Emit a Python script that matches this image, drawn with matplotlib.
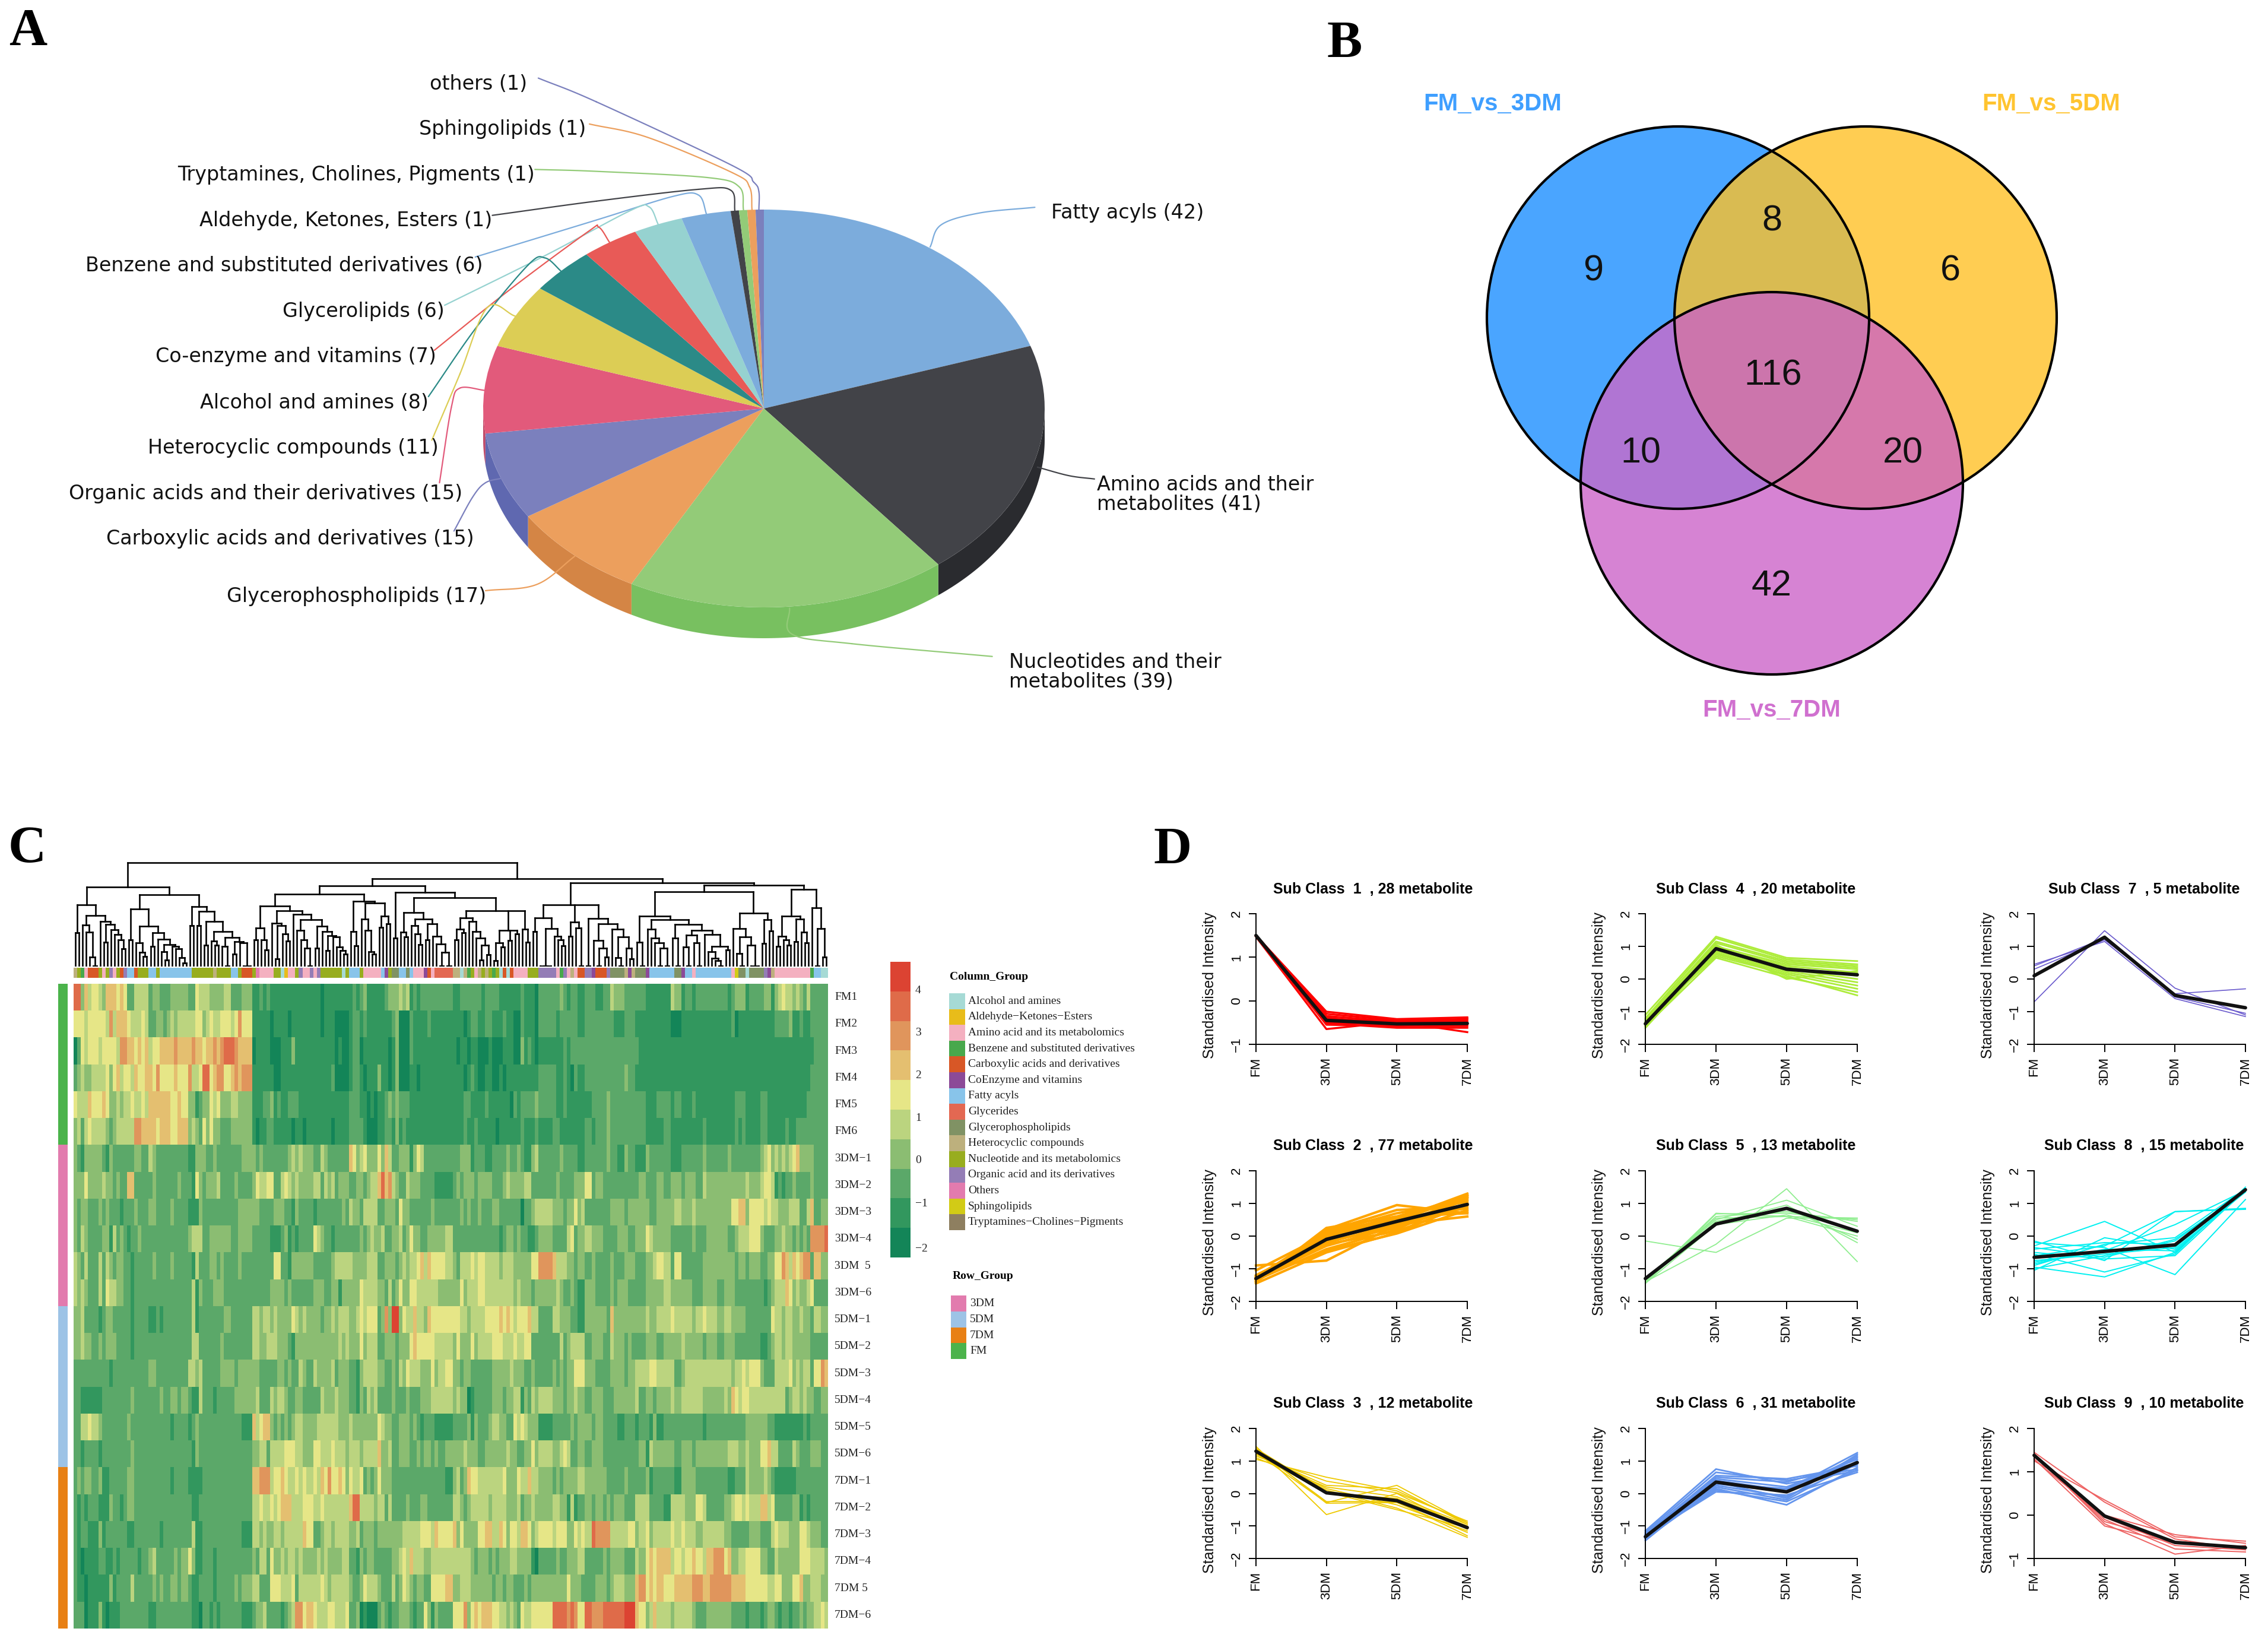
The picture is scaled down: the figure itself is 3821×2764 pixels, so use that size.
import numpy as np
import matplotlib
matplotlib.use("Agg")
import matplotlib.pyplot as plt
from matplotlib.colors import ListedColormap
from matplotlib.patches import Circle, Polygon
from matplotlib.collections import LineCollection

W, H = 3821, 2764
DPI = 100

# ---------------- panel A data ----------------
pie_names = ["Fatty acyls (42)", "Amino acids and their\nmetabolites (41)", "Nucleotides and their\nmetabolites (39)",
             "Glycerophospholipids (17)", "Carboxylic acids and derivatives (15)",
             "Organic acids and their derivatives (15)", "Heterocyclic compounds (11)", "Alcohol and amines (8)",
             "Co-enzyme and vitamins (7)", "Glycerolipids (6)", "Benzene and substituted derivatives (6)",
             "Aldehyde, Ketones, Esters (1)", "Tryptamines, Cholines, Pigments (1)", "Sphingolipids (1)", "others (1)"]
pie_counts = [42, 41, 39, 17, 15, 15, 11, 8, 7, 6, 6, 1, 1, 1, 1]
pie_colors = ["#7cacdc", "#424348", "#93cb78", "#ec9f5d", "#7b80bd", "#e25a7b", "#dccd55", "#2b8a87",
              "#e85a57", "#96d2d0", "#7cacdc", "#424348", "#93cb78", "#ec9f5d", "#7b80bd"]
pie_side_colors = ["#5f8fc0", "#2a2b2f", "#78c060", "#d48545", "#5f68b0", "#c04a68", "#bfae40", "#1f706d",
                   "#c94a48", "#7ab8b5", "#5f8fc0", "#2a2b2f", "#78c060", "#d48545", "#5f68b0"]

# ---------------- panel B data ----------------
venn_sets = ["FM_vs_3DM", "FM_vs_5DM", "FM_vs_7DM"]
venn_counts = [9, 8, 6, 116, 10, 20, 42]

# ---------------- panel C data ----------------
row_names = ["FM1", "FM2", "FM3", "FM4", "FM5", "FM6", "3DM\u22121", "3DM\u22122", "3DM\u22123", "3DM\u22124", "3DM  5", "3DM\u22126",
             "5DM\u22121", "5DM\u22122", "5DM\u22123", "5DM\u22124", "5DM\u22125", "5DM\u22126",
             "7DM\u22121", "7DM\u22122", "7DM\u22123", "7DM\u22124", "7DM 5", "7DM\u22126"]
row_groups = [3] * 6 + [0] * 6 + [1] * 6 + [2] * 6
row_group_names = ["3DM", "5DM", "7DM", "FM"]
row_group_colors = ["#e27bae", "#9dc3e6", "#e88014", "#4bb34b"]
col_group_names = ["Alcohol and amines", "Aldehyde\u2212Ketones\u2212Esters", "Amino acid and its metabolomics",
                   "Benzene and substituted derivatives", "Carboxylic acids and derivatives", "CoEnzyme and vitamins",
                   "Fatty acyls", "Glycerides", "Glycerophospholipids", "Heterocyclic compounds",
                   "Nucleotide and its metabolomics", "Organic acid and its derivatives", "Others", "Sphingolipids",
                   "Tryptamines\u2212Cholines\u2212Pigments"]
col_group_codes = "AKMBCZFGPHNOXST"
col_group_colors = ["#a6dad5", "#e8bc1a", "#f4b0c0", "#48a84c", "#d85726", "#8c4a98", "#88c4ea", "#e36852", "#809264",
                    "#bdb07d", "#98ad1f", "#947db6", "#e27bae", "#d2cb16", "#8e7f60"]
col_annotation = ("H1 N1 B1 M1 C3 N1 M1 N1 O1 M1 N1 C1 O1 F2 C1 N3 F2 N1 F9 N6 H1 N4 F2 N1 C3 N1 X1 M4 N2 A1 K1 M2 N1 O1 "
                  "M2 O1 M1 O1 N6 A1 N1 F3 N1 M5 F1 Z1 N1 P2 F2 P1 F1 M3 Z1 C1 M1 G5 "
                  "H2 A1 H1 B1 N1 M1 H1 N1 H1 N1 B1 N1 A1 C1 A1 C1 M4 N3 O5 M1 B1 O1 M1 H1 M1 C2 O2 Z1 C3 O1 P4 H1 Z1 "
                  "H1 P3 Z1 F7 P2 Z1 F2 M1 F10 M1 S1 P2 A1 P4 O1 Z1 H1 M10 B1 F2 A2")
heat_colors = ["#138558", "#32975e", "#5ba869", "#8bbd72", "#bbd47f", "#e6e687", "#e4bf70", "#e0955c", "#df6b49", "#dc4332"]
cbar_ticks = ["4", "3", "2", "1", "0", "\u22121", "\u22122"]

# heat values as run-lengths: first digit = colour level, remaining digits = number of columns
heat_a = [
 "82 31 61 41 52 41 31 63 51 61 51 22 44 21 32 23 35 22 51 43 34 42 23 33 12 21 11 21 112 11 11 01 11",
 "53 41 55 41 71 41 63 51 43 51 41 22 31 31 21 31 41 31 45 52 31 41 51 42 53 41 51 71 53 15 01 14 01 18 01 11",
 "01 21 51 41 53 41 54 41 72 62 51 61 51 61 41 52 64 71 64 71 62 51 62 71 61 71 83 71 64 01 14 03 13 31 19",
 "21 31 41 32 44 51 31 51 61 41 52 41 61 52 62 51 71 54 61 53 71 42 51 82 51 61 72 52 61 71 61 73 16 02 113",
 "51 43 61 53 61 51 32 41 31 42 51 42 51 41 66 52 61 52 32 11 21 32 51 41 51 33 42 34 13 22 31 11 21 12 23 18",
 "31 41 21 41 51 44 31 21 31 45 72 64 51 63 52 63 31 41 31 21 51 31 51 32 23 36 11 01 12 22 15 01 12 01 16",
 "31 21 11 35 21 11 31 21 25 32 22 41 31 29 12 33 22 31 27 34 21 31 27 31 41 31 41 31 32 22 41 31",
 "33 51 34 41 32 21 31 22 62 25 31 26 31 23 11 51 31 21 33 41 24 31 24 31 51 42 52 22 41 51 41 31 41 34 42 21 41",
 "31 21 32 23 31 21 31 23 11 23 31 23 32 24 31 24 13 31 210 36 24 33 22 11 31 24 11 23",
 "31 21 41 31 24 32 11 41 21 31 21 11 22 31 213 31 43 22 36 22 34 25 13 21 31 11 21 11 24 51 41 31 21",
 "41 31 21 41 23 41 21 41 31 21 32 22 11 25 31 24 31 25 11 41 23 32 21 31 24 31 29 52 22 11 36 24",
 "41 31 41 31 23 41 21 51 42 32 22 11 216 41 11 31 23 33 213 34 21 31 26 33 21",
 "32 41 24 11 21 32 25 11 24 12 21 11 28 41 11 27 32 26 42 31 42 31 41 34 51 41 31 41 34 21 31",
 "32 41 32 22 31 21 33 24 11 216 42 26 31 28 42 32 43 33 21 11 39",
 "210 11 210 32 29 42 31 41 25 34 21 36 25 32 21 31 22 41 31 22 41 33",
 "22 16 28 31 27 31 22 32 21 32 21 12 41 23 11 25 36 41 23 41 31 42 31 22 32 25 41 31",
 "22 42 51 42 31 27 31 211 11 24 11 21 31 212 13 61 41 51 62 31 21 31 21 31 21 31 42 34 43",
 "22 11 24 11 28 31 216 11 31 215 32 42 21 44 53 42 33 52 42",
 "21 31 21 32 22 31 12 25 32 210 11 24 14 214 62 73 41 52 61 51 42 51 41 51 42 51 41 61 51",
 "21 11 21 11 23 13 31 22 11 21 32 216 12 215 42 51 42 51 41 51 63 43 53 42 51 41",
 "21 11 22 13 31 11 26 12 27 11 28 41 12 211 13 42 31 41 32 42 31 45 61 52 22 31 41",
 "21 11 01 14 22 12 21 11 25 11 22 31 41 25 31 21 32 51 31 12 23 11 210 31 21 42 21 51 32 41 31 42 31 41 34 41 31 41",
 "21 12 01 16 31 11 24 41 25 31 21 31 22 32 21 32 21 12 24 11 25 31 21 33 42 23 53 43 51 21 46 51 41",
 "23 01 13 31 11 01 13 28 12 210 12 01 22 11 21 11 26 13 21 32 41 21 23 11 21 31 41 72 51 62 51 43",
]
heat_b = [
 "17 21 11 21 31 15 21 33 41 31 41 11 21 11 29 12 26 11 24 16 21 13 01 26 31 21 11 22 11",
 "12 04 11 22 11 21 17 21 31 03 21 14 21 19 01 11 22 12 22 13 21 12 02 21 13 01 25 11 25 11",
 "12 01 11 02 11 22 01 17 01 11 31 03 21 112 01 12 01 12 03 11 03 13 02 31 11 21 11 01 17 21 11 23",
 "11 21 04 11 22 11 01 13 31 12 01 11 31 03 12 01 112 01 11 21 11 02 12 02 11 01 19 25 12 21 11 01 21 11",
 "16 23 12 01 11 01 12 21 31 21 31 23 115 22 14 21 16 01 21 11 24 31 25 12 21 14",
 "11 01 14 24 11 03 12 22 11 31 11 21 116 21 12 21 15 01 16 21 13 21 14 22 16",
 "26 61 51 31 41 51 33 51 31 61 41 22 33 11 31 51 41 210 33 11 23 12 24 31 22 31 21 12 31 41 26 31 24 11",
 "31 41 21 33 22 32 21 31 42 61 81 61 71 41 31 22 41 33 24 15 21 31 21 33 21 34 21 22 31 41 34 42 22 25 31 24 32",
 "24 31 21 41 32 21 44 22 33 21 51 32 26 31 27 31 21 31 22 31 23 32 26 01 22 31 45 33 21 32 51 31",
 "21 11 27 31 21 31 41 32 41 22 32 41 21 31 51 32 22 35 42 213 11 21 32 21 31 22 12 21 34 24 41 51 21 31",
 "21 31 45 34 43 22 33 21 31 41 31 42 51 61 41 61 54 42 31 21 43 51 41 52 44 31 43 35 52 74 61 43 32 21 31",
 "21 32 11 35 51 44 32 21 41 21 31 51 32 52 46 36 51 31 43 52 48 31 41 33 21 36 41 31 22 31 21 11",
 "31 41 31 43 32 41 51 41 53 21 31 71 31 92 31 51 42 61 42 31 61 58 42 31 44 54 61 51 61 51 41 53 61 42 24 42 31 32 22 11",
 "33 41 31 41 33 51 31 43 22 33 21 33 51 61 55 45 31 51 33 51 31 44 53 43 51 42 52 28 41 21 31 43",
 "31 41 21 33 22 11 31 44 32 22 31 21 41 31 51 43 33 51 31 42 52 32 21 32 26 34 31 41 31 32 22 31 25 31 21 31 21 32 52",
 "32 41 33 22 11 31 21 41 31 41 24 31 23 31 23 33 46 31 41 32 01 11 25 33 21 32 42 11 31 21 41 31 44 33 21 32 41 31",
 "43 33 41 37 51 41 32 22 33 21 31 21 11 23 15 24 31 11 31 23 31 42 32 22 51 41 51 41 31 32 14 25 31 21 31",
 "41 51 43 31 43 31 44 61 32 41 22 33 22 31 21 32 21 31 22 34 31 41 33 22 36 41 32 22 32 51 31 44 32 41 51 41 22 31",
 "71 52 61 51 31 51 42 51 21 31 21 31 51 31 32 215 12 31 41 21 31 61 52 47 51 33 51 42 61 42 34 21 31 21 32 32 41",
 "46 61 82 44 31 42 21 41 21 23 31 23 32 27 42 31 21 31 41 44 31 44 33 41 21 32 41 35 42 32 11 41 11 21",
 "41 31 44 32 41 21 31 32 21 36 31 45 53 41 61 54 61 31 51 31 32 31 52 62 42 61 51 31 52 41 62 51 31 41 54 41 53 32 51 41",
 "34 42 22 11 31 21 32 25 32 41 51 41 61 43 32 411 31 21 33 21 31 21 33 42 34 11 01 25 31 22 33 41",
 "31 45 31 22 31 51 43 31 23 41 21 31 51 41 31 21 32 22 54 62 32 43 31 35 21 32 21 32 23 31 21 310 51 33",
 "52 43 51 22 31 01 11 03 21 31 21 11 22 31 32 21 11 22 51 31 11 31 24 53 71 31 51 61 51 63 52 42 31 41 31 21 51 42 56 84 71 81 71 51",
]
heat_c = [
 "11 23 12 22 41 33 26 17 41 32 11 22 11 29 11 21 33 11 24 32 11 31 41 51 42 31 41 31 21 41 25",
 "11 28 13 23 110 03 114 21 01 110 24 31 12 21 12 25",
 "216 149 24",
 "11 211 31 22 149 25",
 "13 24 31 210 13 24 11 22 13 21 111 23 14 22 111 26",
 "11 22 11 23 31 210 15 22 19 21 18 21 11 21 14 22 15 21 12 29",
 "11 26 31 22 12 31 22 13 31 26 13 26 31 26 31 28 31 41 51 31 41 31 41 31 41 51 61 34 24",
 "31 52 21 32 210 32 23 32 22 33 21 33 22 41 311 41 33 41 52 41 11 21 11 22 31 24 31 24",
 "41 27 34 21 36 22 35 42 33 41 310 52 62 31 54 41 51 42 33 43 22 41 61 22 32",
 "31 42 33 24 33 22 33 51 41 35 26 31 23 36 22 31 43 53 31 23 32 41 32 21 31 21 31 21 74 81",
 "31 22 31 24 31 23 33 23 32 41 52 42 21 52 26 39 21 32 21 33 22 32 52 71 61 41 61 51 61 72 21 62 32",
 "11 33 24 31 21 33 25 35 42 36 23 34 22 33 28 11 21 31 43 61 51 31 41 32 41 51 24",
 "11 36 21 61 39 41 32 44 51 45 31 42 51 43 32 42 34 27 51 42 31 42 32 41 32 21 42 32",
 "41 22 33 22 41 33 21 31 24 33 22 35 41 35 21 33 22 33 27 12 21 31 42 31 42 35 25",
 "51 33 24 34 21 32 44 52 45 22 31 413 31 42 51 41 53 31 23 44 51 31 41 31 42 21 52 71 61",
 "31 22 33 23 36 41 22 32 21 34 41 32 46 36 41 31 61 51 41 52 410 21 31 42 31 41 32 22 32",
 "33 21 32 24 12 23 11 23 11 31 12 211 11 211 36 22 18 21 11 25",
 "31 22 33 210 32 11 41 36 22 33 21 39 43 32 41 33 52 61 41 41 24 41 31 23 33 22",
 "41 36 25 31 25 31 11 26 12 34 29 12 23 41 34 41 31 21 16 29",
 "21 32 21 32 21 31 21 33 23 44 24 12 44 33 52 41 25 32 41 52 41 51 43 62 41 51 25 32 11 21 11 25",
 "51 42 81 74 45 52 31 42 51 31 45 51 42 51 43 32 46 32 25 33 23 41 51 43 33 52 41 33 22",
 "41 25 31 21 34 23 41 32 51 61 51 64 41 52 41 52 61 52 41 62 73 51 61 32 42 54 32 22 41 36 53 43 41 31",
 "21 23 33 21 31 43 33 61 72 51 61 51 62 53 65 73 62 76 64 56 42 52 33 52 61 32 41 42 32",
 "51 82 73 86 93 61 52 31 41 61 44 31 45 31 23 37 24 11 23 11 21 32 21 11 22 11 22 31 21 32 42 51 41",
]

# dendrogram: (merge_level child child ...), "." is a leaf; level 0 = top of the tree area
dend_a1 = "(222 (363 . .) (276 (325 . (360 . (487 . (530 . .)))) (306 . (320 (412 . .) (347 . (372 . (398 . (443 . .))))))))"
dend_a2 = "(244 (400 . .) (330 (413 . (462 . (482 . .))) (363 (432 . .) (397 . (423 (460 . (502 . .)) (433 . (445 . (488 . (516 . .)))))))))"
dend_a3 = "(232 (326 . .) (255 (326 . .) (307 (427 . .) (357 (405 . (426 . .)) (388 (432 . (530 . .)) (408 (470 . .) (415 . (530 . . .))))))))"
dend_b1 = ("(228 (340 (398 . .) (398 . (450 . .))) (252 (315 . (327 (495 . .) (370 . (406 . .)))) (270 . (298 (352 . (398 . (442 . (530 . .)))) "
           "(330 (440 . .) (357 . (378 (452 . .) (385 . (435 . (452 . (470 . .)))))))))))")
dend_b2 = "(205 (358 . (428 . .)) (213 (293 . (350 . (460 . (470 . .)))) (280 (336 . .) (318 . .))))"
dend_z1 = "(260 (360 . (385 . .)) (293 (327 . (370 . (422 . .))) (317 (400 . .) (382 . (420 . (463 (530 . .) (530 . .)))))))"
dend_z2 = ("(252 (288 (345 (398 . .) (362 . .)) (305 . (358 . (390 . (427 (502 . .) (473 . .)))))) "
           "(352 (415 (503 . .) (435 . .)) (403 . .) (370 . .)) (345 . (410 . .)))")
dend_c1 = ("(222 (288 (358 . .) (342 (530 . . . .) (380 . (398 . (430 . .))))) (310 (382 . .) (340 . (530 . .))) "
           "(292 (530 . .) (317 (402 . (440 (530 . .) (486 . .))) (345 . (383 (490 . (530 . .)) (440 . (495 . .)))))))")
dend_c2 = ("(122 (157 (278 (410 . (530 . .)) (298 (345 . (390 . (413 . (442 (530 . .) (530 . .))))) (320 (390 . (530 . .)) "
           "(352 (375 (435 . (530 . .)) (415 . (530 . .))) (372 . (432 (458 . (492 . (505 . (530 . .)))) (450 . .))))))) "
           "(263 (343 . (383 (468 . (530 . .)) (427 . (530 . . .)))) (298 (418 . .) (355 . .)))) "
           "(143 (280 (380 (432 . .) (398 . (425 . .))) (295 (408 . .) (360 . (413 . .)))) (237 . (342 (530 . .) (485 . .)))))")
dend_tree = (f"(10 (133 {dend_a1} (170 {dend_a2} {dend_a3})) (90 (126 (168 {dend_b1} {dend_b2}) "
             f"(158 (390 . .) (187 {dend_z1} {dend_z2}))) (112 {dend_c1} {dend_c2})))")

# ---------------- panel D data ----------------
stages = ["FM", "3DM", "5DM", "7DM"]
class_titles = ["Sub Class  1  , 28 metabolite", "Sub Class  2  , 77 metabolite", "Sub Class  3  , 12 metabolite",
                "Sub Class  4  , 20 metabolite", "Sub Class  5  , 13 metabolite", "Sub Class  6  , 31 metabolite",
                "Sub Class  7  , 5 metabolite", "Sub Class  8  , 15 metabolite", "Sub Class  9  , 10 metabolite"]
class_colors = ["#ff0000", "#ffa500", "#eec900", "#adec3a", "#90ee90", "#6495ed", "#6a5acd", "#00f0f0", "#ee6363"]
class_line_widths = [2.4, 3.0, 1.3, 2.0, 1.3, 2.0, 1.2, 1.4, 1.4]
class_ymin = [-1, -2, -2, -2, -2, -2, -2, -2, -1]
class_means = [[1.5, -0.45, -0.53, -0.52], [-1.3, -0.1, 0.45, 0.97], [1.3, 0.02, -0.22, -1.05],
               [-1.37, 0.93, 0.3, 0.13], [-1.3, 0.37, 0.85, 0.15], [-1.33, 0.35, 0.05, 0.95],
               [0.1, 1.28, -0.5, -0.88], [-0.65, -0.47, -0.27, 1.42], [1.38, -0.02, -0.63, -0.75]]
class1 = [[1.5,-0.25,-0.42,-0.38],[1.5,-0.3,-0.45,-0.42],[1.49,-0.35,-0.48,-0.45],[1.5,-0.4,-0.5,-0.48],[1.5,-0.45,-0.52,-0.5],
          [1.48,-0.5,-0.55,-0.55],[1.5,-0.55,-0.58,-0.58],[1.47,-0.65,-0.48,-0.72],[1.5,-0.52,-0.62,-0.62],[1.49,-0.38,-0.6,-0.4]]
class2 = [[-0.9,-0.75,0.35,0.6],[-1.45,-0.5,0.1,1.0],[-1.4,0.25,0.6,0.7],[-1.35,0.2,0.95,0.7],[-1.3,0.15,0.8,0.9],[-1.25,0.1,0.7,1.05],
          [-1.35,0.05,0.6,1.2],[-1.4,0,0.5,1.3],[-1.3,-0.05,0.45,1.25],[-1.2,-0.1,0.4,1.1],[-1.25,-0.2,0.35,1.15],[-1.3,-0.3,0.3,1.2],
          [-1.35,-0.4,0.2,1.25],[-1.28,-0.15,0.25,1.0],[-1.22,-0.25,0.15,0.95],[-1.33,0.1,0.55,0.85],[-1.3,-0.45,0.08,0.8],[-1.05,0.05,0.5,0.75]]
class3 = [[1.05,0.5,0.08,-0.9],[1.15,0.38,0.02,-0.85],[1.2,0.25,0.15,-0.95],[1.45,-0.65,0.0,-1.1],[1.4,-0.3,-0.28,-1.2],[1.35,-0.25,-0.25,-1.3],
          [1.3,0.1,-0.45,-1.35],[1.1,0.2,-0.1,-0.95],[1.25,-0.28,0.25,-0.9],[1.38,0.05,-0.5,-1.05],[1.28,0.15,-0.35,-1.15],[1.22,0.0,-0.15,-1.0]]
class4 = [[-1.1,1.3,0.65,0.55],[-1.2,1.25,0.6,0.45],[-1.25,1.15,0.55,0.4],[-1.3,1.1,0.5,0.35],[-1.35,1.0,0.45,0.3],[-1.4,0.95,0.4,0.2],
          [-1.45,0.9,0.35,0.1],[-1.5,0.85,0.3,0],[-1.4,0.8,0.25,-0.1],[-1.35,0.75,0.2,-0.2],[-1.3,0.7,0.15,-0.3],[-1.45,0.65,0.05,-0.4],
          [-1.38,0.8,0.1,-0.5],[-1.42,1.05,0.0,0.25]]
class5 = [[-0.15,-0.5,0.55,0.55],[-1.4,-0.25,1.45,-0.78],[-1.4,0.7,0.6,0.55],[-1.45,0.68,0.7,0.5],[-1.35,0.6,0.75,0.45],[-1.3,0.5,1.1,0.3],
          [-1.4,0.45,0.85,-0.1],[-1.35,0.4,0.95,-0.2],[-1.45,0.35,0.65,0.1],[-1.3,0.55,0.6,0.0]]
class6 = [[-1.15,0.75,0.3,0.7],[-1.2,0.65,0.4,0.75],[-1.25,0.55,0.45,0.85],[-1.3,0.5,0.35,0.95],[-1.35,0.45,0.2,1.05],[-1.4,0.4,0.1,1.25],
          [-1.45,0.3,0.05,1.15],[-1.3,0.25,-0.1,0.9],[-1.35,0.2,-0.2,1.0],[-1.4,0.15,-0.35,0.8],[-1.3,0.05,-0.05,0.65],[-1.25,0.3,0.15,1.1],
          [-1.38,0.35,-0.15,1.2],[-1.28,0.1,-0.25,0.72]]
class7 = [[0.45,1.15,-0.6,-1.15],[-0.7,1.48,-0.28,-1.1],[0.3,1.2,-0.45,-0.3],[0.4,1.25,-0.55,-1.05],[0.1,1.3,-0.5,-0.9]]
class8 = [[-0.3,0.45,-0.5,1.4],[-0.95,-1.25,-0.5,1.45],[-0.55,-1.1,-0.55,1.5],[-1.05,-0.05,-0.4,1.35],[-0.15,-0.75,0.75,0.85],[-0.6,-0.3,0.75,0.82],
          [-0.2,-0.35,-1.18,1.12],[-0.8,-0.45,0.35,1.4],[-0.35,-0.65,-0.1,1.35],[-0.9,-0.25,-0.05,1.45],[-0.5,-0.7,-0.6,1.4],[-0.75,-0.55,-0.35,1.42],
          [-0.85,-0.4,-0.45,1.38],[-0.4,-0.2,-0.25,1.45],[-1.0,-0.6,-0.15,1.4]]
class9 = [[1.25,0.35,-0.5,-0.6],[1.45,0.3,-0.55,-0.8],[1.3,-0.25,-0.65,-0.72],[1.42,-0.2,-0.9,-0.7],[1.35,-0.1,-0.78,-0.85],[1.4,0.0,-0.45,-0.65],
          [1.38,-0.15,-0.6,-0.75],[1.28,-0.05,-0.7,-0.8]]
class_lines = [class1, class2, class3, class4, class5, class6, class7, class8, class9]

# ---------------- figure helpers ----------------
SERIF = "Liberation Serif"
SANS = "Liberation Sans"
fig = plt.figure(figsize=(W / DPI, H / DPI), dpi=DPI, facecolor="white")


def px_axes(x0, y0, x1, y1, **kw):
    return fig.add_axes([x0 / W, 1 - y1 / H, (x1 - x0) / W, (y1 - y0) / H], **kw)


page = px_axes(0, 0, W, H)
page.set_xlim(0, W)
page.set_ylim(H, 0)
page.axis("off")
page.set_zorder(5)
page.patch.set_alpha(0)

for letter, lx, ly in [("A", 47, 53), ("B", 2265, 74), ("C", 46, 1430), ("D", 1976, 1432)]:
    page.text(lx, ly, letter, family=SERIF, weight="bold", fontsize=64, ha="center", va="center")

# ---------------- A: pie ----------------
PIE_CX, PIE_CY, PIE_RX, PIE_RY, PIE_D = 1287, 688, 473, 335, 52
ax_pie = px_axes(PIE_CX - PIE_RX, PIE_CY - PIE_RY, PIE_CX + PIE_RX, PIE_CY + PIE_RY + PIE_D)
depth = PIE_D / PIE_RY
edges = 90 - 360 * np.concatenate([[0], np.cumsum(pie_counts)]) / np.sum(pie_counts)
for i in range(len(pie_counts)):
    a0, a1 = max(edges[i + 1], -180), min(edges[i], 0)
    if a1 > a0:
        t = np.radians(np.linspace(a1, a0, 80))
        xs, ys = np.cos(t), np.sin(t)
        ax_pie.add_patch(Polygon(np.r_[np.c_[xs, ys], np.c_[xs[::-1], ys[::-1] - depth]], closed=True,
                                 fc=pie_side_colors[i], ec="none", zorder=1))
wedges, _ = ax_pie.pie(pie_counts, colors=pie_colors, startangle=90, counterclock=False, radius=1,
                       wedgeprops=dict(linewidth=0, zorder=2))
ax_pie.set_aspect("auto")
ax_pie.set_xlim(-1, 1)
ax_pie.set_ylim(-1 - depth, 1)
ax_pie.axis("off")

label_layout = {
    0: (1771, 358, "left"), 1: (1848, 833, "left"), 2: (1700, 1132, "left"), 3: (819, 1004, "right"),
    4: (799, 907, "right"), 5: (779, 831, "right"), 6: (739, 754, "right"), 7: (722, 678, "right"),
    8: (735, 600, "right"), 9: (749, 524, "right"), 10: (814, 447, "right"), 11: (829, 371, "right"),
    12: (901, 294, "right"), 13: (987, 217, "right"), 14: (888, 141, "right"),
}
for i, name in enumerate(pie_names):
    lx, ly, ha = label_layout[i]
    page.text(lx, ly, name, family="DejaVu Sans", fontsize=24, ha=ha, va="center", linespacing=1.0, color="#111111")

leader_nodes = {
    14: [(632,165),(700,215),(860,350),(885,385),(891,405),(891,445)],
    13: [(692,262),(760,290),(860,365),(880,395),(883,445)],
    12: [(628,358),(700,362),(830,375),(868,395),(873,445)],
    11: [(578,455),(700,425),(820,400),(858,402),(863,448)],
    10: [(558,543),(700,465),(790,415),(820,412),(830,455)],
    9: [(522,645),(640,540),(740,445),(762,437),(773,475)],
    8: [(510,740),(600,610),(690,490),(703,480),(716,513)],
    7: [(503,838),(560,690),(620,560),(640,545),(660,575)],
    6: [(507,930),(540,790),(572,650),(605,668)],
    5: [(516,1020),(530,860),(540,820),(570,825)],
    4: [(533,1122),(555,1050),(570,1020),(590,1010)],
    3: [(570,1248),(630,1235),(675,1175)],
    0: [(1215,438),(1150,450),(1105,475),(1092,522)],
    1: [(1285,1012),(1255,1005),(1218,987)],
    2: [(1165,1387),(1000,1360),(930,1340),(927,1285)],
}
SX, SY = 2250 / 1568, 1250 / 1568


def smooth(nodes):
    p = np.array(nodes, float) * [SX, SY]
    p = np.vstack([2 * p[0] - p[1], p, 2 * p[-1] - p[-2]])
    out = []
    s = np.linspace(0, 1, 24)[:, None]
    for k in range(1, len(p) - 2):
        p0, p1, p2, p3 = p[k - 1], p[k], p[k + 1], p[k + 2]
        out.append(0.5 * (2 * p1 + (p2 - p0) * s + (2 * p0 - 5 * p1 + 4 * p2 - p3) * s ** 2 + (3 * p1 - p0 - 3 * p2 + p3) * s ** 3))
    return np.vstack(out)


for i, nodes in leader_nodes.items():
    q = smooth(nodes)
    page.plot(q[:, 0], q[:, 1], color=pie_colors[i], lw=1.6, solid_capstyle="round")

# ---------------- B: venn ----------------
VR = 322
vc = [(2827, 535), (3143, 535), (2985, 814)]
vfill = {(0,): "#4aa5ff", (1,): "#ffcd52", (2,): "#d683d3", (0, 1): "#d9bb52", (0, 2): "#b075d3", (1, 2): "#d678ab", (0, 1, 2): "#cc75ac"}


def lens(ids):
    pts = []
    t = np.linspace(0, 2 * np.pi, 1440)
    for i in ids:
        b = np.c_[vc[i][0] + VR * np.cos(t), vc[i][1] + VR * np.sin(t)]
        keep = np.ones(len(b), bool)
        for j in ids:
            if j != i:
                keep &= np.hypot(b[:, 0] - vc[j][0], b[:, 1] - vc[j][1]) <= VR
        pts.append(b[keep])
    pts = np.vstack(pts)
    c = pts.mean(axis=0)
    return pts[np.argsort(np.arctan2(pts[:, 1] - c[1], pts[:, 0] - c[0]))]


for ids, col in vfill.items():
    if len(ids) == 1:
        page.add_patch(Circle(vc[ids[0]], VR, fc=col, ec="none", zorder=1))
    else:
        page.add_patch(Polygon(lens(ids), closed=True, fc=col, ec="none", zorder=len(ids)))
for c in vc:
    page.add_patch(Circle(c, VR, fc="none", ec="black", lw=3.0, zorder=5))
venn_pos = [(2684, 457), (2985, 373), (3286, 457), (2987, 633), (2764, 764), (3206, 764), (2985, 987)]
for val, (vx, vy) in zip(venn_counts, venn_pos):
    page.text(vx, vy, str(val), family=SANS, fontsize=44, ha="center", va="center", color="#111111", zorder=6)
for name, (vx, vy), col in zip(venn_sets, [(2515, 175), (3456, 175), (2985, 1196)], ["#3f9fff", "#ffc430", "#d070cf"]):
    page.text(vx, vy, name, family=SANS, weight="bold", fontsize=29, ha="center", va="center", color=col)

# ---------------- C: heatmap ----------------
HX0, HX1, HY0, HY1 = 124, 1395, 1657, 2743
NCOL = 211


def expand(tokens, n):
    vals = []
    for tok in tokens.split():
        vals += [int(tok[0])] * int(tok[1:])
    vals = vals[:n]
    return vals + [vals[-1]] * (n - len(vals))


heat = np.array([expand(a, 71) + expand(b, 71) + expand(c, 69) for a, b, c in zip(heat_a, heat_b, heat_c)])
heat_cmap = ListedColormap(heat_colors)
ax_h = px_axes(HX0, HY0, HX1, HY1)
ax_h.imshow(heat, aspect="auto", cmap=heat_cmap, vmin=-0.5, vmax=9.5, interpolation="nearest")
ax_h.axis("off")

ax_r = px_axes(98, HY0, 114, HY1)
ax_r.imshow(np.array(row_groups)[:, None], aspect="auto", cmap=ListedColormap(row_group_colors), vmin=-0.5, vmax=3.5,
            interpolation="nearest")
ax_r.axis("off")

ann = []
for tok in col_annotation.split():
    ann += [col_group_codes.index(tok[0])] * int(tok[1:])
ax_a = px_axes(HX0, 1630, HX1, 1647)
ax_a.imshow(np.array(ann)[None, :], aspect="auto", cmap=ListedColormap(col_group_colors), vmin=-0.5, vmax=14.5,
            interpolation="nearest")
ax_a.axis("off")

for i, name in enumerate(row_names):
    yy = HY0 + (i + 0.5) * (HY1 - HY0) / len(row_names)
    page.text(1406, yy, name, family=SERIF, fontsize=14, ha="left", va="center", color="#222222")

# dendrogram
ax_d = px_axes(HX0, 1450, HX1, 1450 + 535 / 3)
ax_d.set_xlim(-0.5, NCOL - 0.5)
ax_d.set_ylim(535, 0)
ax_d.axis("off")
toks = dend_tree.replace("(", " ( ").replace(")", " ) ").split()
pos = [0]
leaf = [0]
segs = []


def parse():
    t = toks[pos[0]]
    pos[0] += 1
    if t == ".":
        x = leaf[0]
        leaf[0] += 1
        return x, 535.0
    level = float(toks[pos[0]])
    pos[0] += 1
    kids = []
    while toks[pos[0]] != ")":
        kids.append(parse())
    pos[0] += 1
    xs = [k[0] for k in kids]
    segs.append([(xs[0], level), (xs[-1], level)])
    for kx, ky in kids:
        segs.append([(kx, level), (kx, ky)])
    return 0.5 * (xs[0] + xs[-1]), level


parse()
ax_d.add_collection(LineCollection(segs, colors="black", linewidths=1.9, capstyle="projecting"))

# colour bar
ax_c = px_axes(1500, 1620, 1534, 2118)
ax_c.imshow(np.arange(9, -1, -1)[:, None], aspect="auto", cmap=heat_cmap, vmin=-0.5, vmax=9.5, interpolation="nearest")
ax_c.axis("off")
for lab, yy in zip(cbar_ticks, [1668, 1739, 1811, 1883, 1954, 2027, 2104]):
    page.text(1542, yy, lab, family=SERIF, fontsize=14, ha="left", va="center", color="#222222")

# legends
page.text(1600, 1645, "Column_Group", family=SERIF, weight="bold", fontsize=14, ha="left", va="center")
for i, (name, col) in enumerate(zip(col_group_names, col_group_colors)):
    y0 = 1673 + i * 26.6
    page.fill_between([1599, 1626], y0, y0 + 26.6, color=col, lw=0)
    page.text(1631, y0 + 13.3, name, family=SERIF, fontsize=14, ha="left", va="center", color="#222222")
page.text(1605, 2150, "Row_Group", family=SERIF, weight="bold", fontsize=14, ha="left", va="center")
for i, (name, col) in enumerate(zip(row_group_names, row_group_colors)):
    y0 = 2182 + i * 26.8
    page.fill_between([1602, 1628], y0, y0 + 26.8, color=col, lw=0)
    page.text(1634, y0 + 13.4, name, family=SERIF, fontsize=14, ha="left", va="center", color="#222222")

# ---------------- D: line panels ----------------
col_x = [(2116, 2472), (2772, 3129), (3427, 3783)]
row_y = [(1539, 1759), (1972, 2192), (2406, 2625)]
title_cx = [2313, 2958, 3612]
title_y = [1498, 1930, 2364]
for k in range(9):
    c, r = k // 3, k % 3
    x0, x1 = col_x[c]
    y0, y1 = row_y[r]
    ax = px_axes(x0, y0, x1, y1)
    for series in class_lines[k]:
        ax.plot(range(4), series, color=class_colors[k], lw=class_line_widths[k], clip_on=False, zorder=2)
    ax.plot(range(4), class_means[k], color="#111111", lw=4.2, clip_on=False, zorder=3, solid_capstyle="round")
    ax.set_xlim(0, 3)
    ax.set_ylim(class_ymin[k], 2)
    ax.set_xticks(range(4), stages, rotation=90, family=SANS, fontsize=16)
    yt = list(range(class_ymin[k], 3))
    ax.set_yticks(yt, [str(v).replace("-", "\u2212") for v in yt], rotation=90, va="center", family=SANS, fontsize=16)
    ax.tick_params(length=9, width=1.4, pad=7)
    for s in ("top", "right"):
        ax.spines[s].set_visible(False)
    for s in ("left", "bottom"):
        ax.spines[s].set_linewidth(1.4)
    ax.patch.set_alpha(0)
    page.text(x0 - 78, (y0 + y1) / 2 + 11, "Standardised Intensity", family=SANS, fontsize=18, rotation=90,
              ha="center", va="center", color="#111111")
    page.text(title_cx[c], title_y[r], class_titles[k], family=SANS, weight="bold", fontsize=18, ha="center", va="center")

fig.savefig("out.png", dpi=DPI)
